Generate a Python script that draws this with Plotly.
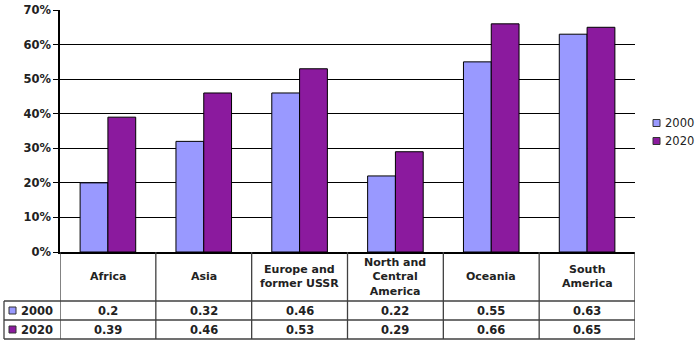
import plotly.graph_objects as go

categories = ["Africa", "Asia", "Europe and former USSR", "North and Central America", "Oceania", "South America"]
header_labels = ["Africa", "Asia", "Europe and<br>former USSR", "North and<br>Central<br>America", "Oceania", "South<br>America"]
series_names = ["2000", "2020"]
values_2000 = [0.2, 0.32, 0.46, 0.22, 0.55, 0.63]
values_2020 = [0.39, 0.46, 0.53, 0.29, 0.66, 0.65]
colors = ["#9999FF", "#8B1A9E"]

W, H = 700, 345
L, R, T, B = 60, 65, 10, 93
pw, ph = W - L - R, H - T - B

def py(pix):  # pixel y -> paper y
    return (H - B - pix) / ph

def px(pix):
    return (pix - L) / pw

FONT = "DejaVu Sans, Verdana, sans-serif"
BOLD = dict(size=11.5, family=FONT, color="#222", weight="bold")
HEAD = dict(size=11, family=FONT, color="#222", weight="bold")

fig = go.Figure()
for name, vals, col in zip(series_names, [values_2000, values_2020], colors):
    fig.add_trace(go.Bar(x=list(range(len(categories))), y=vals, name=name,
                         marker=dict(color=col, line=dict(color="black", width=1))))

fig.update_layout(
    width=W, height=H, margin=dict(l=L, r=R, t=T, b=B, autoexpand=False),
    paper_bgcolor="white", plot_bgcolor="white",
    bargap=0.42, bargroupgap=0, showlegend=False,
    font=dict(family=FONT, color="#222"),
    xaxis=dict(range=[-0.5, 5.5], showticklabels=False, showgrid=False, zeroline=False,
               showline=True, linecolor="black", linewidth=1.5, ticks=""),
    yaxis=dict(range=[0, 0.7], dtick=0.1, tickformat=".0%", showgrid=True,
               gridcolor="black", gridwidth=1.3, zeroline=False,
               showline=True, linecolor="black", linewidth=1.5,
               ticks="outside", ticklen=5, tickcolor="black", tickwidth=1.3,
               tickfont=BOLD),
)

line = dict(color="#404040", width=1.3)
y_head = py(301)
y_r1 = py(320)
y_r2 = py(339)
x_left = px(4)
n = len(categories)
for yy in [y_head, y_r1, y_r2]:
    fig.add_shape(type="line", xref="paper", yref="paper", x0=x_left, x1=1, y0=yy, y1=yy, line=line)
for i in range(n + 1):
    fig.add_shape(type="line", xref="x", yref="paper", x0=i - 0.5, x1=i - 0.5, y0=0, y1=y_r2, line=line)
fig.add_shape(type="line", xref="paper", yref="paper", x0=x_left, x1=x_left, y0=y_head, y1=y_r2, line=line)

for i, lab in enumerate(header_labels):
    fig.add_annotation(x=i, y=(0 + y_head) / 2, xref="x", yref="paper", text=lab, showarrow=False,
                       xanchor="center", yanchor="middle", font=HEAD, align="center")

for vals, yc in [(values_2000, (y_head + y_r1) / 2), (values_2020, (y_r1 + y_r2) / 2)]:
    for i, v in enumerate(vals):
        fig.add_annotation(x=i, y=yc, xref="x", yref="paper", text=f"{v:g}", showarrow=False,
                           xanchor="center", yanchor="middle", font=BOLD)

# row labels with colour keys
for name, col, yc in [(series_names[0], colors[0], (y_head + y_r1) / 2),
                      (series_names[1], colors[1], (y_r1 + y_r2) / 2)]:
    fig.add_shape(type="rect", xref="paper", yref="paper", x0=px(9), x1=px(16),
                  y0=yc - 3.5 / ph, y1=yc + 3.5 / ph, fillcolor=col, line=dict(color="#333", width=1))
    fig.add_annotation(x=px(19), y=yc, xref="paper", yref="paper", text=name, showarrow=False,
                       xanchor="left", yanchor="middle", font=BOLD)

# legend (drawn manually to match position)
for name, col, yc in [(series_names[0], colors[0], py(123)), (series_names[1], colors[1], py(141))]:
    fig.add_shape(type="rect", xref="paper", yref="paper", x0=px(653), x1=px(660),
                  y0=yc - 3.5 / ph, y1=yc + 3.5 / ph, fillcolor=col, line=dict(color="#333", width=1))
    fig.add_annotation(x=px(663), y=yc, xref="paper", yref="paper", text=name, showarrow=False,
                       xanchor="left", yanchor="middle", font=dict(size=11.5, family=FONT, color="#222"))

fig.write_html("out.html")
